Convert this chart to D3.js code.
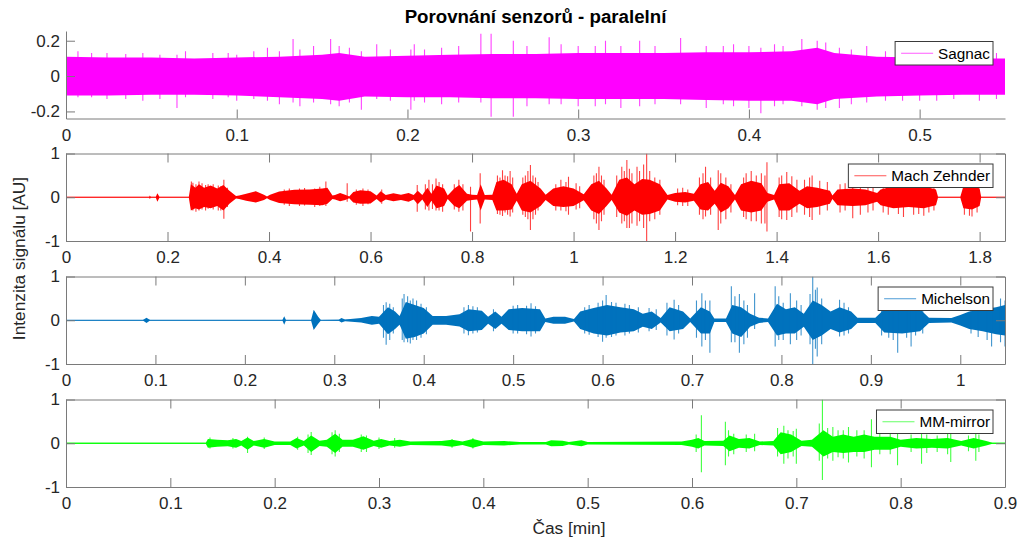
<!DOCTYPE html>
<html lang="cs">
<head>
<meta charset="UTF-8">
<title>Porovnání senzorů - paralelní</title>
<script src="https://cdn.jsdelivr.net/npm/d3@7"></script>
<style>
  body { margin: 0; background: #fff; }
  svg { font-family: "Liberation Sans", Arial, sans-serif; }
</style>
</head>
<body>
<svg width="1021" height="542"></svg>
<script>
// senzory a barvy
var sensors = ['Sagnac', 'Mach Zehnder', 'Michelson', 'MM-mirror']
var colors = ['#ff00ff', '#ff0000', '#0072bd', '#00ff00']
var legendColors = ['#ff5cff', '#ff5555', '#4d9bd6', '#66ff66']

// rozsahy os a popisky
var xMax = [0.55, 1.85, 1.05, 0.9]
var yDomains = [[-0.24, 0.255], [-1, 1], [-1, 1], [-1, 1]]
var xTicks = [
  [0, 0.1, 0.2, 0.3, 0.4, 0.5],
  [0, 0.2, 0.4, 0.6, 0.8, 1, 1.2, 1.4, 1.6, 1.8],
  [0, 0.1, 0.2, 0.3, 0.4, 0.5, 0.6, 0.7, 0.8, 0.9, 1],
  [0, 0.1, 0.2, 0.3, 0.4, 0.5, 0.6, 0.7, 0.8, 0.9]
]
var yTicks = [[-0.2, 0, 0.2], [-1, 0, 1], [-1, 0, 1], [-1, 0, 1]]

// obalky signalu [cas, horni, dolni]
var sagEnv = [
  [0, 0.11, -0.11], [0.025, 0.105, -0.11], [0.05, 0.105, -0.105], [0.075, 0.1, -0.105],
  [0.1, 0.105, -0.11], [0.125, 0.11, -0.12], [0.15, 0.12, -0.13], [0.16, 0.13, -0.14],
  [0.175, 0.11, -0.115], [0.2, 0.115, -0.12], [0.225, 0.12, -0.12], [0.25, 0.125, -0.125],
  [0.275, 0.125, -0.125], [0.3, 0.13, -0.13], [0.325, 0.13, -0.13], [0.35, 0.13, -0.13],
  [0.375, 0.135, -0.135], [0.4, 0.135, -0.14], [0.425, 0.14, -0.14], [0.44, 0.16, -0.16],
  [0.45, 0.13, -0.13], [0.475, 0.11, -0.115], [0.5, 0.105, -0.11], [0.525, 0.1, -0.105],
  [0.55, 0.1, -0.105]
]
var sagSpikes = [
  [0.007, 0.14, -0.12], [0.015, 0.13, -0.12], [0.024, 0.13, -0.13], [0.035, 0.125, -0.13],
  [0.045, 0.13, -0.14], [0.055, 0.12, -0.13], [0.065, 0.12, -0.18], [0.07, 0.14, -0.12],
  [0.086, 0.13, -0.13], [0.095, 0.13, -0.12], [0.1, 0.12, -0.14], [0.11, 0.14, -0.13],
  [0.118, 0.16, -0.14], [0.125, 0.14, -0.16], [0.133, 0.21, -0.15], [0.137, 0.15, -0.17],
  [0.145, 0.17, -0.15], [0.155, 0.21, -0.16], [0.16, 0.17, -0.17], [0.166, 0.16, -0.15],
  [0.173, 0.14, -0.19], [0.182, 0.18, -0.13], [0.19, 0.15, -0.14], [0.202, 0.15, -0.19],
  [0.204, 0.18, -0.14], [0.21, 0.15, -0.15], [0.22, 0.16, -0.16], [0.23, 0.17, -0.15],
  [0.243, 0.24, -0.15], [0.249, 0.24, -0.23], [0.262, 0.2, -0.23], [0.27, 0.17, -0.17],
  [0.283, 0.22, -0.16], [0.29, 0.18, -0.16], [0.3, 0.17, -0.17], [0.31, 0.17, -0.17],
  [0.316, 0.2, -0.16], [0.325, 0.17, -0.18], [0.336, 0.2, -0.17], [0.345, 0.17, -0.16],
  [0.36, 0.215, -0.16], [0.375, 0.17, -0.18], [0.385, 0.17, -0.16], [0.391, 0.18, -0.17],
  [0.4, 0.17, -0.18], [0.407, 0.16, -0.21], [0.415, 0.18, -0.17], [0.42, 0.17, -0.16],
  [0.431, 0.21, -0.17], [0.44, 0.2, -0.19], [0.445, 0.19, -0.18], [0.453, 0.16, -0.18],
  [0.46, 0.15, -0.16], [0.469, 0.17, -0.15], [0.48, 0.14, -0.14], [0.49, 0.14, -0.14],
  [0.5, 0.13, -0.14], [0.51, 0.14, -0.14], [0.52, 0.13, -0.13], [0.535, 0.13, -0.14],
  [0.545, 0.13, -0.13]
]

var mzEnv = [
  [0, 0.01, -0.01], [0.164, 0.01, -0.01], [0.165, 0.04, -0.04], [0.167, 0.01, -0.01],
  [0.177, 0.01, -0.01], [0.18, 0.09, -0.1], [0.184, 0.01, -0.01], [0.242, 0.01, -0.01],
  [0.246, 0.3, -0.3], [0.255, 0.22, -0.25], [0.262, 0.3, -0.28], [0.272, 0.22, -0.22],
  [0.285, 0.27, -0.25], [0.298, 0.2, -0.2], [0.31, 0.28, -0.3], [0.322, 0.15, -0.15],
  [0.335, 0.03, -0.03], [0.341, 0.04, -0.04], [0.355, 0.08, -0.08], [0.374, 0.14, -0.12],
  [0.39, 0.06, -0.06], [0.396, 0.02, -0.02], [0.402, 0.06, -0.06], [0.42, 0.13, -0.13],
  [0.45, 0.17, -0.16], [0.48, 0.18, -0.17], [0.505, 0.2, -0.18], [0.515, 0.22, -0.15],
  [0.525, 0.04, -0.04], [0.53, 0.05, -0.05], [0.54, 0.1, -0.09], [0.55, 0.06, -0.06],
  [0.558, 0.02, -0.02], [0.566, 0.12, -0.12], [0.58, 0.16, -0.15], [0.6, 0.14, -0.14],
  [0.612, 0.04, -0.04], [0.62, 0.14, -0.12], [0.63, 0.05, -0.05], [0.645, 0.09, -0.09],
  [0.66, 0.06, -0.06], [0.675, 0.1, -0.1], [0.685, 0.05, -0.05], [0.693, 0.15, -0.16],
  [0.702, 0.05, -0.05], [0.712, 0.22, -0.22], [0.72, 0.08, -0.08], [0.73, 0.27, -0.25],
  [0.745, 0.2, -0.2], [0.752, 0.04, -0.04], [0.765, 0.2, -0.2], [0.775, 0.28, -0.25],
  [0.79, 0.08, -0.08], [0.8, 0.06, -0.06], [0.81, 0.05, -0.05], [0.817, 0.3, -0.3],
  [0.825, 0.05, -0.05], [0.84, 0.06, -0.06], [0.848, 0.35, -0.3], [0.862, 0.4, -0.3],
  [0.878, 0.3, -0.28], [0.888, 0.08, -0.08], [0.898, 0.3, -0.3], [0.915, 0.38, -0.35],
  [0.935, 0.2, -0.2], [0.945, 0.06, -0.06], [0.96, 0.2, -0.2], [0.98, 0.25, -0.22],
  [1.0, 0.2, -0.2], [1.02, 0.07, -0.07], [1.035, 0.3, -0.3], [1.05, 0.38, -0.38],
  [1.065, 0.2, -0.2], [1.075, 0.06, -0.06], [1.09, 0.4, -0.35], [1.105, 0.45, -0.42],
  [1.12, 0.3, -0.3], [1.135, 0.42, -0.4], [1.15, 0.4, -0.38], [1.17, 0.3, -0.3],
  [1.185, 0.05, -0.05], [1.2, 0.1, -0.1], [1.22, 0.12, -0.12], [1.237, 0.08, -0.08],
  [1.25, 0.3, -0.28], [1.265, 0.35, -0.3], [1.278, 0.15, -0.15], [1.29, 0.33, -0.35],
  [1.305, 0.25, -0.25], [1.318, 0.05, -0.05], [1.33, 0.3, -0.3], [1.35, 0.38, -0.35],
  [1.37, 0.32, -0.3], [1.382, 0.1, -0.1], [1.395, 0.05, -0.05], [1.405, 0.3, -0.3],
  [1.425, 0.32, -0.3], [1.445, 0.15, -0.15], [1.46, 0.25, -0.25], [1.48, 0.22, -0.22],
  [1.505, 0.15, -0.15], [1.51, 0.04, -0.04], [1.52, 0.18, -0.18], [1.55, 0.2, -0.2],
  [1.575, 0.18, -0.18], [1.598, 0.1, -0.1], [1.605, 0.18, -0.18], [1.63, 0.25, -0.25],
  [1.66, 0.22, -0.22], [1.69, 0.25, -0.25], [1.714, 0.18, -0.18], [1.718, 0.01, -0.01],
  [1.762, 0.01, -0.01], [1.768, 0.25, -0.25], [1.785, 0.28, -0.28], [1.8, 0.2, -0.2],
  [1.803, 0.01, -0.01], [1.85, 0.01, -0.01]
]
var mzSpikes = [
  [0.247, 0.36, -0.2], [0.25, 0.33, -0.3], [0.256, 0.3, -0.33], [0.262, 0.36, -0.3],
  [0.268, 0.32, -0.28], [0.275, 0.28, -0.3], [0.28, 0.3, -0.26], [0.29, 0.3, -0.28],
  [0.3, 0.27, -0.3], [0.305, 0.25, -0.3], [0.311, 0.4, -0.49], [0.318, 0.22, -0.22],
  [0.43, 0.18, -0.17], [0.44, 0.2, -0.2], [0.46, 0.2, -0.2], [0.47, 0.21, -0.19],
  [0.49, 0.2, -0.22], [0.5, 0.24, -0.2], [0.512, 0.36, -0.2], [0.554, 0.32, -0.1],
  [0.572, 0.18, -0.17], [0.585, 0.2, -0.2], [0.595, 0.18, -0.16], [0.622, 0.18, -0.15],
  [0.692, 0.28, -0.33], [0.708, 0.3, -0.28], [0.715, 0.4, -0.3], [0.722, 0.3, -0.27],
  [0.729, 0.43, -0.3], [0.735, 0.35, -0.3], [0.742, 0.3, -0.33], [0.765, 0.3, -0.28],
  [0.774, 0.4, -0.33], [0.782, 0.3, -0.3], [0.797, 0.24, -0.78], [0.816, 0.55, -0.6],
  [0.85, 0.5, -0.38], [0.855, 0.45, -0.4], [0.86, 0.62, -0.43], [0.865, 0.5, -0.35],
  [0.87, 0.48, -0.4], [0.875, 0.6, -0.44], [0.88, 0.45, -0.35], [0.9, 0.45, -0.4],
  [0.905, 0.5, -0.45], [0.91, 0.6, -0.5], [0.915, 0.74, -0.75], [0.92, 0.5, -0.5],
  [0.925, 0.45, -0.4], [0.93, 0.35, -0.3], [0.965, 0.3, -0.3], [0.975, 0.4, -0.3],
  [0.985, 0.35, -0.32], [0.99, 0.47, -0.4], [1.005, 0.32, -0.28], [1.012, 0.25, -0.25],
  [1.04, 0.5, -0.5], [1.045, 0.55, -0.6], [1.05, 0.7, -0.75], [1.055, 0.5, -0.55],
  [1.06, 0.4, -0.4], [1.085, 0.5, -0.45], [1.095, 0.7, -0.6], [1.1, 0.6, -0.55],
  [1.105, 0.85, -0.7], [1.11, 0.65, -0.7], [1.115, 0.55, -0.6], [1.125, 0.7, -0.65],
  [1.13, 0.6, -0.55], [1.138, 0.75, -0.7], [1.144, 1.0, -1.0], [1.15, 0.6, -0.55],
  [1.16, 0.45, -0.5], [1.17, 0.4, -0.4], [1.205, 0.2, -0.18], [1.215, 0.22, -0.2],
  [1.225, 0.18, -0.2], [1.248, 0.45, -0.4], [1.255, 0.55, -0.5], [1.26, 0.7, -0.44],
  [1.27, 0.45, -0.4], [1.285, 0.62, -0.75], [1.29, 0.55, -0.6], [1.3, 0.45, -0.5],
  [1.31, 0.3, -0.35], [1.335, 0.45, -0.45], [1.34, 0.55, -0.5], [1.35, 0.6, -0.55],
  [1.36, 0.5, -0.55], [1.37, 0.55, -0.6], [1.377, 0.5, -0.6], [1.381, 0.8, -0.78],
  [1.405, 0.45, -0.45], [1.41, 0.5, -0.5], [1.42, 0.58, -0.52], [1.43, 0.48, -0.45],
  [1.44, 0.4, -0.35], [1.455, 0.4, -0.4], [1.465, 0.45, -0.45], [1.47, 0.5, -0.52],
  [1.485, 0.38, -0.4], [1.5, 0.35, -0.3], [1.525, 0.3, -0.35], [1.535, 0.32, -0.3],
  [1.55, 0.4, -0.48], [1.565, 0.32, -0.4], [1.58, 0.3, -0.35], [1.59, 0.25, -0.3],
  [1.61, 0.3, -0.35], [1.62, 0.35, -0.4], [1.64, 0.35, -0.38], [1.65, 0.38, -0.45],
  [1.67, 0.32, -0.4], [1.68, 0.35, -0.38], [1.69, 0.35, -0.42], [1.7, 0.3, -0.35],
  [1.71, 0.28, -0.3], [1.77, 0.33, -0.4], [1.78, 0.35, -0.42], [1.785, 0.36, -0.44],
  [1.795, 0.3, -0.35]
]

var miEnv = [
  [0, 0.005, -0.005], [0.086, 0.005, -0.005], [0.09, 0.06, -0.06], [0.094, 0.005, -0.005],
  [0.242, 0.005, -0.005], [0.244, 0.09, -0.1], [0.246, 0.005, -0.005], [0.274, 0.005, -0.005],
  [0.277, 0.24, -0.22], [0.282, 0.08, -0.08], [0.285, 0.005, -0.005], [0.305, 0.01, -0.01],
  [0.308, 0.05, -0.05], [0.312, 0.02, -0.02], [0.33, 0.05, -0.05], [0.342, 0.1, -0.1],
  [0.35, 0.08, -0.08], [0.36, 0.3, -0.32], [0.368, 0.2, -0.2], [0.373, 0.1, -0.1],
  [0.38, 0.42, -0.42], [0.39, 0.35, -0.38], [0.4, 0.28, -0.3], [0.41, 0.1, -0.1],
  [0.425, 0.1, -0.1], [0.44, 0.14, -0.14], [0.45, 0.25, -0.25], [0.465, 0.22, -0.22],
  [0.472, 0.08, -0.08], [0.48, 0.2, -0.2], [0.487, 0.08, -0.08], [0.495, 0.25, -0.22],
  [0.51, 0.28, -0.25], [0.53, 0.25, -0.25], [0.536, 0.04, -0.04], [0.545, 0.08, -0.08],
  [0.558, 0.08, -0.08], [0.568, 0.03, -0.03], [0.575, 0.2, -0.2], [0.59, 0.28, -0.3],
  [0.605, 0.35, -0.35], [0.62, 0.3, -0.28], [0.635, 0.25, -0.25], [0.645, 0.15, -0.15],
  [0.655, 0.2, -0.2], [0.665, 0.05, -0.05], [0.675, 0.3, -0.25], [0.69, 0.2, -0.2],
  [0.698, 0.04, -0.04], [0.71, 0.3, -0.3], [0.72, 0.2, -0.3], [0.725, 0.04, -0.04],
  [0.738, 0.04, -0.04], [0.745, 0.35, -0.3], [0.755, 0.3, -0.38], [0.765, 0.15, -0.15],
  [0.775, 0.06, -0.06], [0.785, 0.04, -0.04], [0.795, 0.38, -0.35], [0.805, 0.25, -0.3],
  [0.815, 0.3, -0.3], [0.825, 0.15, -0.15], [0.835, 0.45, -0.45], [0.845, 0.35, -0.35],
  [0.855, 0.2, -0.2], [0.865, 0.3, -0.28], [0.878, 0.2, -0.2], [0.885, 0.06, -0.06],
  [0.905, 0.06, -0.06], [0.915, 0.25, -0.28], [0.935, 0.28, -0.3], [0.955, 0.25, -0.25],
  [0.965, 0.06, -0.06], [0.99, 0.05, -0.05], [1.0, 0.12, -0.12], [1.01, 0.2, -0.2],
  [1.025, 0.25, -0.25], [1.04, 0.3, -0.32], [1.05, 0.35, -0.35]
]
var miSpikes = [
  [0.355, 0.35, -0.4], [0.358, 0.41, -0.56], [0.362, 0.38, -0.45], [0.366, 0.3, -0.3],
  [0.376, 0.5, -0.45], [0.378, 0.6, -0.5], [0.382, 0.55, -0.5], [0.385, 0.45, -0.53],
  [0.388, 0.5, -0.45], [0.392, 0.45, -0.45], [0.397, 0.38, -0.4], [0.403, 0.3, -0.32],
  [0.445, 0.3, -0.3], [0.45, 0.35, -0.34], [0.455, 0.32, -0.3], [0.46, 0.3, -0.28],
  [0.478, 0.25, -0.25], [0.5, 0.33, -0.3], [0.505, 0.35, -0.3], [0.515, 0.33, -0.32],
  [0.52, 0.39, -0.37], [0.525, 0.32, -0.3], [0.58, 0.3, -0.3], [0.585, 0.35, -0.33],
  [0.595, 0.4, -0.38], [0.6, 0.45, -0.49], [0.604, 0.58, -0.4], [0.61, 0.42, -0.38],
  [0.615, 0.4, -0.35], [0.625, 0.38, -0.35], [0.63, 0.35, -0.3], [0.64, 0.3, -0.28],
  [0.652, 0.28, -0.25], [0.66, 0.25, -0.22], [0.672, 0.4, -0.35], [0.68, 0.47, -0.44],
  [0.685, 0.35, -0.3], [0.705, 0.45, -0.4], [0.711, 0.62, -0.6], [0.715, 0.45, -0.45],
  [0.72, 0.45, -0.74], [0.744, 0.78, -0.5], [0.748, 0.55, -0.5], [0.753, 0.6, -0.74],
  [0.758, 0.45, -0.55], [0.762, 0.35, -0.4], [0.77, 0.62, -0.2], [0.793, 0.78, -0.6],
  [0.797, 0.55, -0.45], [0.802, 0.4, -0.45], [0.81, 0.62, -0.55], [0.817, 0.45, -0.45],
  [0.822, 0.35, -0.35], [0.832, 0.6, -0.55], [0.835, 1.0, -1.0], [0.838, 0.7, -0.65],
  [0.84, 0.75, -0.83], [0.845, 0.5, -0.55], [0.865, 0.47, -0.37], [0.87, 0.4, -0.35],
  [0.875, 0.3, -0.3], [0.912, 0.35, -0.35], [0.92, 0.38, -0.4], [0.925, 0.35, -0.45],
  [0.93, 0.35, -0.74], [0.94, 0.38, -0.4], [0.945, 0.4, -0.6], [0.95, 0.35, -0.35],
  [0.958, 0.3, -0.3], [1.012, 0.35, -0.3], [1.02, 0.4, -0.38], [1.03, 0.4, -0.45],
  [1.035, 0.58, -0.6], [1.045, 0.5, -0.5], [1.05, 0.45, -0.6]
]

var mmEnv = [
  [0, 0.01, -0.01], [0.134, 0.01, -0.01], [0.136, 0.1, -0.1], [0.145, 0.08, -0.08],
  [0.155, 0.07, -0.07], [0.163, 0.1, -0.1], [0.168, 0.05, -0.05], [0.174, 0.13, -0.15],
  [0.18, 0.05, -0.05], [0.19, 0.1, -0.1], [0.2, 0.04, -0.04], [0.215, 0.04, -0.04],
  [0.221, 0.12, -0.12], [0.228, 0.05, -0.05], [0.235, 0.18, -0.2], [0.243, 0.06, -0.06],
  [0.25, 0.08, -0.08], [0.258, 0.22, -0.22], [0.265, 0.08, -0.08], [0.275, 0.08, -0.08],
  [0.285, 0.16, -0.15], [0.295, 0.06, -0.06], [0.302, 0.1, -0.1], [0.31, 0.05, -0.05],
  [0.32, 0.08, -0.08], [0.33, 0.04, -0.04], [0.36, 0.05, -0.05], [0.37, 0.08, -0.08],
  [0.38, 0.04, -0.04], [0.39, 0.1, -0.1], [0.4, 0.04, -0.04], [0.42, 0.05, -0.05],
  [0.435, 0.03, -0.03], [0.46, 0.03, -0.03], [0.465, 0.07, -0.07], [0.476, 0.06, -0.06],
  [0.482, 0.03, -0.03], [0.494, 0.07, -0.07], [0.5, 0.03, -0.03], [0.59, 0.04, -0.04],
  [0.6, 0.08, -0.08], [0.606, 0.12, -0.12], [0.612, 0.05, -0.05], [0.63, 0.06, -0.06],
  [0.636, 0.18, -0.18], [0.645, 0.1, -0.1], [0.655, 0.12, -0.12], [0.665, 0.04, -0.04],
  [0.678, 0.05, -0.05], [0.685, 0.25, -0.25], [0.695, 0.2, -0.2], [0.705, 0.06, -0.06],
  [0.715, 0.08, -0.08], [0.726, 0.3, -0.3], [0.735, 0.15, -0.2], [0.745, 0.2, -0.22],
  [0.755, 0.15, -0.2], [0.765, 0.2, -0.2], [0.775, 0.15, -0.15], [0.79, 0.15, -0.15],
  [0.8, 0.08, -0.08], [0.815, 0.12, -0.12], [0.83, 0.1, -0.1], [0.845, 0.12, -0.12],
  [0.858, 0.05, -0.05], [0.87, 0.12, -0.12], [0.882, 0.05, -0.05], [0.888, 0.01, -0.01],
  [0.9, 0.01, -0.01]
]
var mmSpikes = [
  [0.138, 0.13, -0.12], [0.16, 0.12, -0.12], [0.174, 0.15, -0.22], [0.19, 0.13, -0.13],
  [0.222, 0.15, -0.15], [0.232, 0.2, -0.22], [0.235, 0.26, -0.27], [0.255, 0.25, -0.25],
  [0.258, 0.3, -0.3], [0.262, 0.22, -0.2], [0.283, 0.2, -0.2], [0.288, 0.18, -0.2],
  [0.3, 0.13, -0.13], [0.315, 0.12, -0.1], [0.37, 0.1, -0.1], [0.39, 0.12, -0.12],
  [0.604, 0.2, -0.2], [0.609, 0.64, -0.66], [0.632, 0.49, -0.5], [0.635, 0.3, -0.3],
  [0.64, 0.22, -0.25], [0.652, 0.2, -0.2], [0.66, 0.22, -0.18], [0.682, 0.35, -0.3],
  [0.688, 0.4, -0.47], [0.692, 0.3, -0.35], [0.697, 0.28, -0.3], [0.7, 0.33, -0.47],
  [0.722, 0.45, -0.4], [0.725, 1.0, -0.84], [0.73, 0.35, -0.35], [0.735, 0.37, -0.4],
  [0.74, 0.3, -0.32], [0.745, 0.3, -0.35], [0.75, 0.37, -0.44], [0.758, 0.3, -0.3],
  [0.765, 0.3, -0.35], [0.772, 0.55, -0.55], [0.78, 0.25, -0.25], [0.79, 0.22, -0.25],
  [0.797, 0.25, -0.5], [0.81, 0.2, -0.2], [0.82, 0.25, -0.47], [0.825, 0.2, -0.22],
  [0.835, 0.18, -0.2], [0.845, 0.22, -0.25], [0.848, 0.25, -0.43], [0.865, 0.18, -0.18],
  [0.872, 0.25, -0.4], [0.875, 0.2, -0.2]
]

var envelopes = [sagEnv, mzEnv, miEnv, mmEnv]
var spikes = [sagSpikes, mzSpikes, miSpikes, mmSpikes]

var titleText = 'Porovnání senzorů - paralelní'
var xLabel = 'Čas [min]'
var yLabel = 'Intenzita signálu [AU]'

// rozvrzeni
var svg = d3.select('svg')
var left = 66, right = 1005
var tops = [31, 153.5, 276.5, 399.5]
var bottoms = [118.5, 241, 364, 487]
var axisColor = '#7a7a7a'
var textColor = '#262626'
var fmt = function(v) { return String(+v.toFixed(2)) }

sensors.forEach(function(name, i) {
  var x = d3.scaleLinear().domain([0, xMax[i]]).range([left, right])
  var y = d3.scaleLinear().domain(yDomains[i]).range([bottoms[i], tops[i]])
  var g = svg.append('g')

  g.append('clipPath').attr('id', 'clip' + i)
    .append('rect')
    .attr('x', left).attr('y', tops[i])
    .attr('width', right - left).attr('height', bottoms[i] - tops[i])

  var plot = g.append('g').attr('clip-path', 'url(#clip' + i + ')')

  // nulova cara
  plot.append('line')
    .attr('x1', x(0)).attr('x2', x(xMax[i]))
    .attr('y1', y(0)).attr('y2', y(0))
    .attr('stroke', colors[i])
    .attr('stroke-opacity', i === 1 ? 0.45 : 1)
    .attr('stroke-width', 1)

  var area = d3.area()
    .x(function(d) { return x(d[0]) })
    .y0(function(d) { return y(d[2]) })
    .y1(function(d) { return y(d[1]) })

  plot.append('path')
    .datum(envelopes[i])
    .attr('d', area)
    .attr('fill', colors[i])

  plot.selectAll('line.spike')
    .data(spikes[i])
    .enter()
    .append('line')
    .attr('class', 'spike')
    .attr('x1', function(d) { return x(d[0]) })
    .attr('x2', function(d) { return x(d[0]) })
    .attr('y1', function(d) { return y(d[1]) })
    .attr('y2', function(d) { return y(d[2]) })
    .attr('stroke', colors[i])
    .attr('stroke-width', 1.1)
    .attr('stroke-opacity', 0.75)

  // osy
  g.append('g')
    .attr('transform', 'translate(0,' + bottoms[i] + ')')
    .call(d3.axisBottom(x).tickValues(xTicks[i]).tickFormat(fmt)
      .tickSizeInner(-9).tickSizeOuter(0).tickPadding(10))
  g.append('g')
    .attr('transform', 'translate(' + left + ',0)')
    .call(d3.axisLeft(y).tickValues(yTicks[i]).tickFormat(fmt)
      .tickSizeInner(-9).tickSizeOuter(0).tickPadding(6))

  if (i > 0) {
    // box on: horni a prava osa s tiky
    g.append('g')
      .attr('transform', 'translate(0,' + tops[i] + ')')
      .call(d3.axisTop(x).tickValues(xTicks[i]).tickFormat('')
        .tickSizeInner(-9).tickSizeOuter(0))
    g.append('g')
      .attr('transform', 'translate(' + right + ',0)')
      .call(d3.axisRight(y).tickValues(yTicks[i]).tickFormat('')
        .tickSizeInner(-9).tickSizeOuter(0))
  }

  g.selectAll('.domain, .tick line').attr('stroke', axisColor)
  g.selectAll('.tick text')
    .attr('fill', textColor)
    .style('font-size', '17px')
    .style('font-family', '"Liberation Sans", Arial, sans-serif')

  // legenda
  var leg = g.append('g').attr('transform', 'translate(0,' + (tops[i] + 10.5) + ')')
  var box = leg.append('rect')
    .attr('y', 0).attr('height', 23.5)
    .attr('fill', '#fff')
    .attr('stroke', '#3a3a3a')
    .attr('stroke-width', 1)
  var lineEl = leg.append('line')
    .attr('y1', 11.75).attr('y2', 11.75)
    .attr('stroke', legendColors[i])
    .attr('stroke-width', 1)
  var txt = leg.append('text')
    .attr('x', right - 15)
    .attr('y', 11.75)
    .attr('dy', '0.36em')
    .attr('text-anchor', 'end')
    .attr('fill', '#000')
    .style('font-size', '15.3px')
    .text(name)
  var tw = txt.node().getComputedTextLength()
  var bx = right - 12 - tw - 46
  box.attr('x', bx).attr('width', tw + 46)
  lineEl.attr('x1', bx + 6).attr('x2', bx + 38)
})

// titulek a popisky os
svg.append('text')
  .attr('x', 535.5).attr('y', 23)
  .attr('text-anchor', 'middle')
  .attr('fill', '#000')
  .style('font-size', '18.7px')
  .style('font-weight', 'bold')
  .text(titleText)

svg.append('text')
  .attr('x', 569).attr('y', 534)
  .attr('text-anchor', 'middle')
  .attr('fill', textColor)
  .style('font-size', '17.3px')
  .text(xLabel)

svg.append('text')
  .attr('transform', 'translate(25,258.5) rotate(-90)')
  .attr('text-anchor', 'middle')
  .attr('fill', textColor)
  .style('font-size', '17.3px')
  .text(yLabel)
</script>
</body>
</html>
